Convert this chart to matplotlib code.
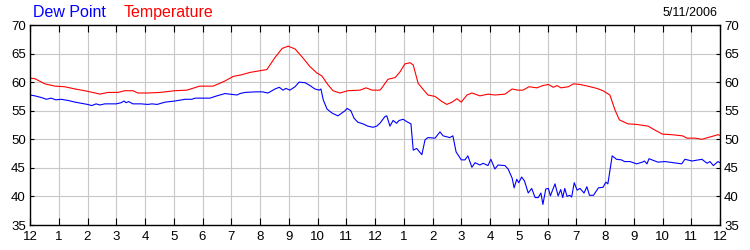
import matplotlib
matplotlib.use("Agg")
import matplotlib.pyplot as plt

plt.rcParams['font.family'] = ['Liberation Sans', 'DejaVu Sans']

# hours since midnight and temperature (F)
temp_hours = [0.0, 0.17, 0.52, 0.87, 1.2, 1.57, 1.9, 2.27, 2.43, 2.71, 3.06, 3.3, 3.58, 3.75,
              4.1, 4.52, 5.04, 5.46, 5.9, 6.37, 6.78, 7.07, 7.37, 7.65, 8.0, 8.24, 8.52,
              8.77, 8.98, 9.22, 9.5, 9.74, 9.98, 10.15, 10.37, 10.54, 10.78, 11.06, 11.48,
              11.69, 11.9, 12.17, 12.24, 12.45, 12.7, 12.87, 13.04, 13.22, 13.33, 13.5,
              13.63, 13.84, 14.09, 14.33, 14.5, 14.68, 14.85, 15.0, 15.2, 15.37, 15.65,
              15.93, 16.17, 16.52, 16.77, 16.97, 17.15, 17.36, 17.63, 17.84, 18.03, 18.2,
              18.33, 18.47, 18.73, 18.9, 19.13, 19.4, 19.72, 19.93, 20.17, 20.35, 20.5,
              20.8, 21.1, 21.5, 21.74, 22.0, 22.33, 22.7, 22.85, 23.13, 23.37, 23.65,
              23.93, 24.0]
temperature = [60.7, 60.6, 59.7, 59.3, 59.2, 58.8, 58.5, 58.1, 57.9, 58.2, 58.2, 58.5, 58.5, 58.1,
               58.1, 58.2, 58.5, 58.6, 59.3, 59.3, 60.2, 61.0, 61.3, 61.7, 62.0, 62.2, 64.3,
               65.9, 66.3, 65.8, 64.2, 62.7, 61.6, 61.1, 59.5, 58.5, 58.1, 58.5, 58.6,
               59.0, 58.6, 58.6, 59.0, 60.5, 60.8, 61.8, 63.2, 63.4, 63.0, 59.8,
               59.0, 57.75, 57.5, 56.6, 56.1, 56.5, 57.1, 56.5, 57.75, 58.1, 57.6,
               57.9, 57.75, 57.9, 58.8, 58.6, 58.6, 59.2, 59.0, 59.4, 59.6, 59.1,
               59.4, 59.0, 59.2, 59.7, 59.6, 59.3, 58.9, 58.5, 57.75, 55.1, 53.4,
               52.7, 52.6, 52.3, 51.6, 50.9, 50.8, 50.6, 50.2, 50.2, 50.0, 50.4,
               50.8, 50.7]

# hours since midnight and dew point (F)
dew_hours = [0.0, 0.17, 0.4, 0.57, 0.73, 0.9, 1.08, 1.32, 1.57, 1.78, 2.0, 2.15, 2.3, 2.43, 2.6,
             3.0, 3.17, 3.27, 3.34, 3.43, 3.58, 3.86, 4.1, 4.24, 4.42, 4.7, 5.04, 5.4, 5.63,
             5.74, 5.98, 6.26, 6.5, 6.78, 6.96, 7.2, 7.3, 7.48, 7.83, 8.1, 8.17, 8.28, 8.52,
             8.67, 8.8, 8.9, 9.04, 9.22, 9.36, 9.57, 9.74, 9.91, 10.06, 10.12, 10.2, 10.33,
             10.5, 10.71, 10.96, 11.03, 11.16, 11.27, 11.4, 11.58, 11.75, 11.93, 12.06,
             12.17, 12.35, 12.41, 12.52, 12.63, 12.75, 12.84, 12.98, 13.1, 13.25, 13.33,
             13.45, 13.63, 13.74, 13.84, 14.09, 14.26, 14.37, 14.6, 14.71, 14.82, 15.0,
             15.13, 15.23, 15.37, 15.48, 15.65, 15.76, 15.93, 16.03, 16.17, 16.28, 16.52,
             16.63, 16.77, 16.84, 16.93, 17.0, 17.1, 17.2, 17.33, 17.45, 17.57, 17.68,
             17.77, 17.84, 17.94, 18.03, 18.1, 18.26, 18.37, 18.46, 18.53, 18.6, 18.68,
             18.77, 18.84, 18.93, 19.03, 19.13, 19.27, 19.37, 19.46, 19.6, 19.77, 19.93,
             20.03, 20.1, 20.17, 20.25, 20.4, 20.57, 20.68, 20.87, 21.1, 21.3, 21.37,
             21.46, 21.53, 21.68, 21.84, 22.09, 22.37, 22.67, 22.78, 23.03, 23.37, 23.55,
             23.65, 23.77, 23.93, 24.0]
dew_point = [57.75, 57.6, 57.3, 57.0, 57.2, 56.9, 57.0, 56.8, 56.5, 56.3, 56.1, 55.9, 56.2, 56.0, 56.2,
             56.2, 56.4, 56.7, 56.4, 56.6, 56.2, 56.2, 56.1, 56.2, 56.1, 56.5, 56.7, 57.0, 57.0,
             57.2, 57.2, 57.2, 57.6, 58.0, 57.9, 57.75, 58.0, 58.2, 58.3, 58.3, 58.2, 58.1, 58.8,
             59.1, 58.6, 58.9, 58.6, 59.2, 60.0, 59.9, 59.4, 58.8, 58.6, 58.8, 56.9, 55.3,
             54.6, 54.1, 55.0, 55.4, 55.0, 53.7, 53.0, 52.7, 52.3, 52.1, 52.3,
             52.8, 54.0, 54.1, 52.3, 53.3, 52.8, 53.3, 53.5, 53.1, 52.7, 48.1,
             48.4, 47.3, 49.9, 50.3, 50.2, 51.3, 50.6, 50.3, 50.6, 47.8, 46.4,
             46.4, 47.1, 45.1, 45.9, 45.5, 45.8, 45.4, 46.5, 44.8, 45.5, 45.4,
             44.8, 43.2, 41.5, 43.0, 42.4, 43.4, 42.7, 40.6, 41.4, 39.8, 39.8,
             40.6, 38.6, 41.3, 41.4, 40.1, 42.2, 40.1, 41.2, 39.8, 41.4, 40.0,
             40.2, 39.9, 42.4, 41.1, 41.4, 40.6, 41.7, 40.2, 40.2, 41.5, 41.6,
             42.5, 42.2, 44.5, 47.1, 46.5, 46.4, 46.1, 46.1, 45.7, 46.0, 46.2,
             45.7, 46.6, 46.3, 46.0, 46.1, 45.9, 45.7, 46.5, 46.2, 46.5, 45.8,
             46.1, 45.4, 46.1, 45.9]

hour_labels = ['12', '1', '2', '3', '4', '5', '6', '7', '8', '9', '10', '11',
               '12', '1', '2', '3', '4', '5', '6', '7', '8', '9', '10', '11', '12']
y_ticks = [35, 40, 45, 50, 55, 60, 65, 70]

fig = plt.figure(figsize=(7.5, 2.5), dpi=100)
ax = fig.add_axes([0.04, 0.1, 0.92, 0.8])

ax.plot(temp_hours, temperature, color='#ff0000', lw=0.8)
ax.plot(dew_hours, dew_point, color='#0000ff', lw=0.8)

ax.set_xlim(0, 24)
ax.set_ylim(35, 70)
ax.set_xticks(range(25))
ax.set_xticklabels(hour_labels)
ax.set_yticks(y_ticks)
ax.grid(True, color='#c8c8c8', lw=0.8)
ax.set_axisbelow(True)

ax.tick_params(axis='x', direction='in', length=5, top=True, labelsize=9.5, pad=4)
ax.tick_params(axis='y', direction='in', length=3, right=True, labelright=True,
               labelsize=9.5, pad=3)
for sp in ax.spines.values():
    sp.set_color('black')
    sp.set_linewidth(1)

fig.text(0.044, 0.95, 'Dew Point', color='#0000ff', fontsize=11.5, va='center')
fig.text(0.165, 0.95, 'Temperature', color='#ff0000', fontsize=11.5, va='center')
fig.text(0.957, 0.95, '5/11/2006', color='#000000', fontsize=9, va='center', ha='right')

fig.savefig('out.png', dpi=100)
